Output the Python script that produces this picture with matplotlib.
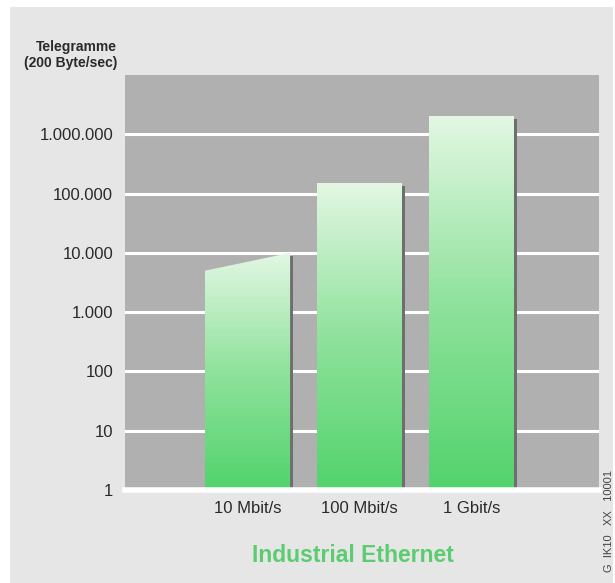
import matplotlib
matplotlib.use("Agg")
import matplotlib.pyplot as plt
import numpy as np
from matplotlib.patches import Polygon, Rectangle
from matplotlib.colors import LinearSegmentedColormap

# data
categories = ["10 Mbit/s", "100 Mbit/s", "1 Gbit/s"]
top_left = [5000, 150000, 2000000]      # value at left edge of bar top
top_right = [10000, 150000, 2000000]    # value at right edge of bar top
y_ticks = [1, 10, 100, 1000, 10000, 100000, 1000000]
y_tick_labels = ["1", "10", "100", "1.000", "10.000", "100.000", "1.000.000"]

plt.rcParams["font.family"] = ["Liberation Sans", "DejaVu Sans"]

fig = plt.figure(figsize=(6.15, 5.83), dpi=100)
fig.patch.set_facecolor("white")
# light grey panel behind everything
fig.patches.append(Rectangle((10 / 615, 0), 1 - 12 / 615, 1 - 7 / 583,
                             transform=fig.transFigure, facecolor="#e6e6e6",
                             edgecolor="none", zorder=-10))

ax = fig.add_axes([125 / 615, 93 / 583, 474 / 615, 415 / 583])
ax.set_facecolor("#b0b0b0")
ax.set_yscale("log")
ax.set_ylim(1, 1e7)
ax.set_xlim(-1.094, 3.138)

for y in y_ticks[1:]:
    ax.axhline(y, color="white", linewidth=2.2, zorder=1)
ax.axhline(1, color="white", linewidth=4, zorder=5, clip_on=False)

cmap = LinearSegmentedColormap.from_list("g", ["#52d36c", "#8fe29c", "#e3f7e3"])
grad = np.linspace(0, 1, 256).reshape(-1, 1)
width = 0.76
shadow = 0.03
for i, (lo, hi) in enumerate(zip(top_left, top_right)):
    x0, x1 = i - width / 2, i + width / 2
    # shadow on right side
    ax.add_patch(Rectangle((x1, 1), shadow, max(lo, hi) * 0.9 - 1,
                           facecolor="#6e6e6e", edgecolor="none", zorder=2))
    poly = Polygon([(x0, 1), (x1, 1), (x1, hi), (x0, lo)], closed=True,
                   facecolor="none", edgecolor="none", zorder=3)
    ax.add_patch(poly)
    top_frac = np.log10(max(lo, hi)) / 7
    im = ax.imshow(grad, cmap=cmap, aspect="auto", origin="lower",
                   extent=((x0 + 1.094) / 4.232, (x1 + 1.094) / 4.232, 0, top_frac),
                   transform=ax.transAxes, zorder=3)
    im.set_clip_path(poly)

ax.set_xlim(-1.094, 3.138)
ax.set_ylim(1, 1e7)
ax.set_yticks(y_ticks)
ax.set_yticklabels(y_tick_labels)
ax.minorticks_off()
ax.set_xticks(range(len(categories)))
ax.set_xticklabels(categories)
ax.tick_params(axis="both", length=0, labelsize=12, colors="#2a2a2a")
ax.tick_params(axis="y", pad=8.5)
ax.tick_params(axis="x", pad=8)
for s in ax.spines.values():
    s.set_visible(False)

fig.text(117 / 615, 1 - 40 / 583, "Telegramme\n(200 Byte/sec)", ha="right", va="top",
         fontsize=10, fontweight="bold", color="#2a2a2a", linespacing=1.2)
fig.text(353 / 615, 1 - 555 / 583, "Industrial Ethernet", ha="center", va="center",
         fontsize=16.5, fontweight="bold", color="#5ccc70")
fig.text(609 / 615, 1 - 521 / 583, "G  IK10   XX   10001", ha="center", va="center",
         rotation=90, fontsize=8, color="#444444")

fig.savefig("out.png", dpi=100)
